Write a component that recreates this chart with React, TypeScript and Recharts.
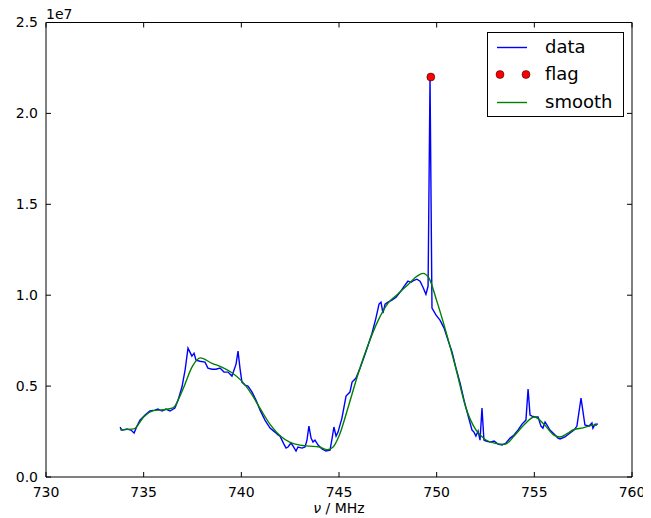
import React from "react";
import { ComposedChart, Line, Scatter, XAxis, YAxis, Legend } from "recharts";

// frequency (MHz) and flux (units of 1e7)
const dataFreq = [
  733.79, 733.89, 734.15, 734.35, 734.51, 734.66, 734.81, 735.07, 735.32, 735.58, 735.73, 735.94, 736.14, 736.35,
  736.6, 736.76, 736.96, 737.12, 737.27, 737.37, 737.47, 737.58, 737.68, 737.88, 738.14, 738.29, 738.5, 738.7,
  738.91, 739.11, 739.32, 739.52, 739.73, 739.83, 739.93, 740.03, 740.19, 740.34, 740.55, 740.75, 740.96, 741.21,
  741.47, 741.72, 741.88, 741.98, 742.08, 742.18, 742.29, 742.39, 742.54, 742.65, 742.8, 742.9, 743.11, 743.26,
  743.36, 743.46, 743.57, 743.67, 743.77, 743.93, 744.13, 744.33, 744.54, 744.64, 744.74, 744.85, 744.95, 745.15,
  745.36, 745.56, 745.67, 745.87, 746.08, 746.28, 746.49, 746.69, 746.89, 747.05, 747.15, 747.25, 747.36, 747.51,
  747.71, 747.92, 748.12, 748.33, 748.53, 748.69, 748.84, 748.99, 749.15, 749.3, 749.45, 749.56, 749.66, 749.76,
  749.97, 750.17, 750.38, 750.58, 750.79, 750.99, 751.2, 751.4, 751.6, 751.81, 751.91, 752.01, 752.12, 752.22,
  752.32, 752.42, 752.53, 752.73, 752.94, 753.14, 753.35, 753.55, 753.76, 753.96, 754.16, 754.37, 754.57, 754.68,
  754.78, 754.88, 755.03, 755.19, 755.34, 755.44, 755.55, 755.65, 755.8, 756.01, 756.21, 756.32, 756.57, 756.83,
  757.03, 757.18, 757.39, 757.59, 757.8, 757.95, 758.0, 758.11, 758.26,
];
const dataFlux = [
  0.275, 0.258, 0.264, 0.258, 0.242, 0.28, 0.313, 0.341, 0.363, 0.368, 0.374, 0.363, 0.374, 0.363,
  0.379, 0.423, 0.495, 0.588, 0.709, 0.687, 0.665, 0.681, 0.643, 0.637, 0.632, 0.599, 0.593, 0.593,
  0.599, 0.577, 0.577, 0.555, 0.621, 0.692, 0.599, 0.522, 0.505, 0.5, 0.467, 0.423, 0.368, 0.313,
  0.269, 0.247, 0.231, 0.225, 0.203, 0.181, 0.159, 0.165, 0.187, 0.17, 0.143, 0.165, 0.159, 0.165,
  0.203, 0.28, 0.214, 0.192, 0.203, 0.176, 0.154, 0.143, 0.148, 0.209, 0.275, 0.225, 0.247, 0.324,
  0.445, 0.467, 0.522, 0.544, 0.599, 0.659, 0.725, 0.791, 0.874, 0.951, 0.962, 0.901, 0.951, 0.962,
  0.973, 0.989, 1.016, 1.049, 1.077, 1.071, 1.082, 1.088, 1.077, 1.044, 1.005, 1.049, 2.2, 0.929,
  0.89, 0.863, 0.819, 0.753, 0.687, 0.599, 0.516, 0.423, 0.341, 0.258, 0.247, 0.225, 0.253, 0.203,
  0.379, 0.203, 0.198, 0.192, 0.198, 0.181, 0.176, 0.187, 0.214, 0.231, 0.258, 0.291, 0.313, 0.484,
  0.341, 0.335, 0.33, 0.33, 0.28, 0.269, 0.302, 0.286, 0.258, 0.236, 0.214, 0.209, 0.22, 0.242,
  0.258, 0.28, 0.434, 0.286, 0.28, 0.297, 0.269, 0.291, 0.291,
];

const smoothFreq = [
  733.8, 734.5, 735, 735.5, 736, 736.5, 737, 737.5, 737.9, 738.5, 739, 739.5, 740, 740.5, 741, 741.5, 742,
  742.5, 743, 743.5, 744, 744.4, 744.7, 745, 745.5, 746, 746.5, 747, 747.5, 748, 748.5, 749, 749.3, 749.6,
  750, 750.5, 751, 751.5, 752, 752.5, 753, 753.5, 754, 754.5, 755, 755.5, 756, 756.3, 756.7, 757, 757.5, 758, 758.2,
];
const smoothFlux = [
  0.26, 0.265, 0.33, 0.365, 0.37, 0.38, 0.48, 0.61, 0.655, 0.625, 0.605, 0.575, 0.53, 0.46, 0.37, 0.285, 0.225,
  0.19, 0.175, 0.17, 0.165, 0.15, 0.165, 0.225, 0.395, 0.575, 0.73, 0.86, 0.955, 1.005, 1.055, 1.105, 1.12, 1.095,
  0.97, 0.79, 0.59, 0.38, 0.26, 0.205, 0.185, 0.18, 0.23, 0.29, 0.33, 0.29, 0.23, 0.22, 0.24, 0.26, 0.27, 0.285, 0.285,
];

const flagFreq = [749.7];
const flagFlux = [2.2];

const xTicks = [730, 735, 740, 745, 750, 755, 760];
const yTicks = [0, 0.5, 1.0, 1.5, 2.0, 2.5];

const seriesData = dataFreq.map((x, i) => ({ x, y: dataFlux[i] }));
const seriesSmooth = smoothFreq.map((x, i) => ({ x, y: smoothFlux[i] }));
const seriesFlag = flagFreq.map((x, i) => ({ x, y: flagFlux[i] }));

const FONT = "'DejaVu Sans', sans-serif";
const tickStyle = { fontFamily: FONT, fontSize: 14, fill: "#000" };

const LegendBox = () => (
  <svg width={137} height={85} style={{ display: "block" }}>
    <rect x={0.5} y={0.5} width={136} height={84} fill="#fff" stroke="#000" strokeWidth={1} />
    <line x1={10} x2={40} y1={15.5} y2={15.5} stroke="#0000ff" strokeWidth={1.4} />
    <text x={58} y={21} fontFamily={FONT} fontSize={18} fill="#000">data</text>
    <circle cx={13} cy={42.5} r={4} fill="#ff0000" stroke="#000" strokeWidth={0.5} />
    <circle cx={39} cy={42.5} r={4} fill="#ff0000" stroke="#000" strokeWidth={0.5} />
    <text x={58} y={48} fontFamily={FONT} fontSize={18} fill="#000">flag</text>
    <line x1={10} x2={40} y1={70.5} y2={70.5} stroke="#008000" strokeWidth={1.4} />
    <text x={58} y={76} fontFamily={FONT} fontSize={18} fill="#000">smooth</text>
  </svg>
);

const FlagDot = (props: any) => {
  const { cx, cy } = props;
  return <circle cx={cx} cy={cy} r={4} fill="#ff0000" stroke="#000" strokeWidth={0.5} />;
};

export default function App() {
  return (
    <div style={{ position: "relative", width: 643, height: 510 }}>
      <ComposedChart
        width={643}
        height={510}
        margin={{ top: 0, right: 8, bottom: 0, left: 0 }}
      >
        <XAxis
          dataKey="x"
          type="number"
          domain={[730, 760]}
          ticks={xTicks}
          allowDataOverflow
          height={41}
          tickSize={-5}
          tickMargin={15}
          tick={tickStyle}
          axisLine={{ stroke: "#000" }}
          tickLine={{ stroke: "#000" }}
        />
        <XAxis
          xAxisId="top"
          orientation="top"
          dataKey="x"
          type="number"
          domain={[730, 760]}
          ticks={xTicks}
          allowDataOverflow
          height={14.5}
          tickSize={-5}
          tickFormatter={() => ""}
          axisLine={{ stroke: "#000" }}
          tickLine={{ stroke: "#000" }}
        />
        <YAxis
          type="number"
          domain={[0, 2.5]}
          ticks={yTicks}
          allowDataOverflow
          width={38}
          tickSize={-5}
          tickMargin={13}
          tick={tickStyle}
          tickFormatter={(v: number) => v.toFixed(1)}
          axisLine={{ stroke: "#000" }}
          tickLine={{ stroke: "#000" }}
        />
        <YAxis
          yAxisId="right"
          orientation="right"
          type="number"
          domain={[0, 2.5]}
          ticks={yTicks}
          allowDataOverflow
          width={11}
          tickSize={-5}
          tickFormatter={() => ""}
          axisLine={{ stroke: "#000" }}
          tickLine={{ stroke: "#000" }}
        />
        <Line
          data={seriesData}
          dataKey="y"
          type="linear"
          stroke="#0000ff"
          strokeWidth={1.4}
          dot={false}
          activeDot={false}
          isAnimationActive={false}
          name="data"
        />
        <Scatter
          data={seriesFlag}
          dataKey="y"
          shape={<FlagDot />}
          isAnimationActive={false}
          name="flag"
        />
        <Line
          data={seriesSmooth}
          dataKey="y"
          type="monotone"
          stroke="#008000"
          strokeWidth={1.4}
          dot={false}
          activeDot={false}
          isAnimationActive={false}
          name="smooth"
        />
        <Legend
          layout="vertical"
          align="center"
          verticalAlign="middle"
          content={() => <LegendBox />}
          wrapperStyle={{ left: 479, top: 24, width: 137, height: 85 }}
        />
      </ComposedChart>
      <div
        style={{
          position: "absolute",
          left: 38,
          top: -1,
          fontFamily: FONT,
          fontSize: 14,
          lineHeight: "14px",
        }}
      >
        1e7
      </div>
      <div
        style={{
          position: "absolute",
          left: 0,
          width: 662,
          top: 492,
          textAlign: "center",
          fontFamily: FONT,
          fontSize: 14,
          lineHeight: "16px",
        }}
      >
        <span style={{ fontStyle: "italic" }}>ν</span> / MHz
      </div>
    </div>
  );
}
